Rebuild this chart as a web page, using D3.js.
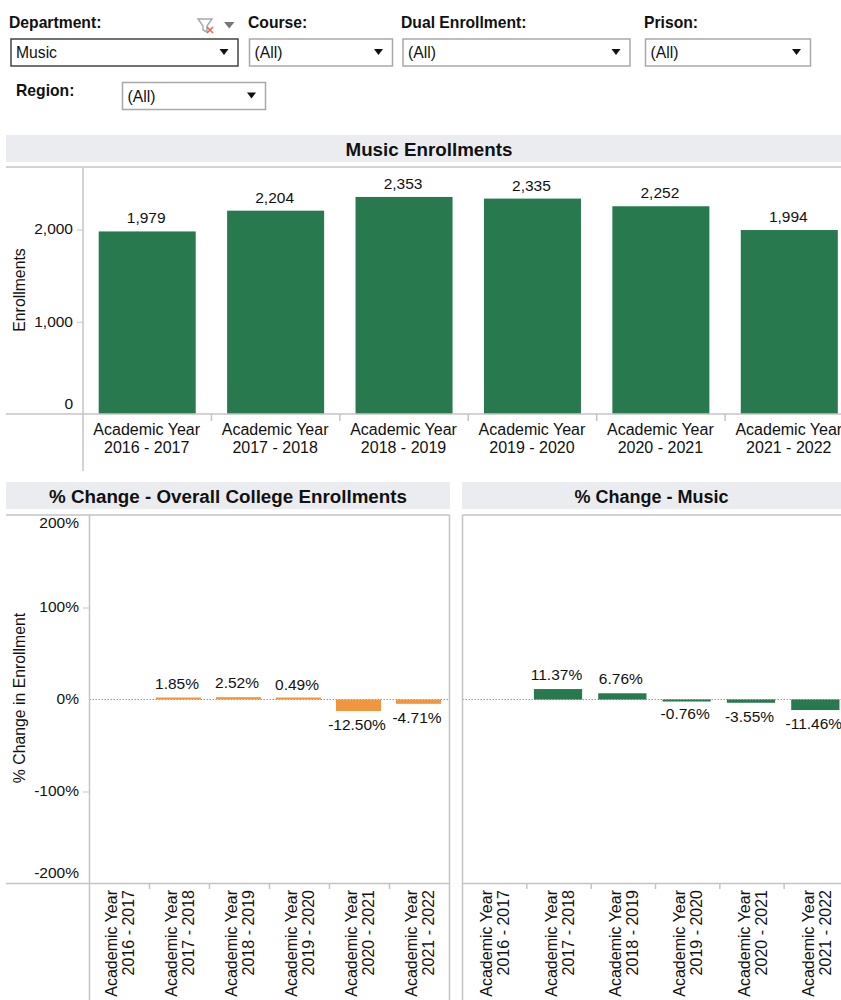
<!DOCTYPE html>
<html>

<head>
    <meta charset="utf-8">
    <title>Music Enrollments</title>
    <style>
        body {
            margin: 0;
            background: #fff;
        }

        svg {
            display: block;
        }

        text {
            font-family: "Liberation Sans", Arial, sans-serif;
            fill: #111;
        }

        .axis-line {
            stroke: #c4c4c4;
            stroke-width: 1.5;
        }

        .filter-label {
            font-size: 15.7px;
            font-weight: bold;
        }

        .panel-title {
            font-size: 18.8px;
            font-weight: bold;
            text-anchor: middle;
        }

        .tick-text {
            font-size: 15.5px;
        }

        .year-text {
            font-size: 16px;
        }
    </style>
    <script src="https://d3js.org/d3.v7.min.js"></script>
</head>

<body>
    <svg width="841" height="1000"></svg>
    <script>
        // Data
        var years = ["2016 - 2017", "2017 - 2018", "2018 - 2019", "2019 - 2020", "2020 - 2021", "2021 - 2022"];
        var enrollments = [1979, 2204, 2353, 2335, 2252, 1994];
        var collegeChange = [null, 1.85, 2.52, 0.49, -12.5, -4.71];
        var musicChange = [null, 11.37, 6.76, -0.76, -3.55, -11.46];
        var enrollmentTicks = [0, 1000, 2000];
        var changeTicks = [-200, -100, 0, 100, 200];
        var filterNames = ["Department:", "Course:", "Dual Enrollment:", "Prison:", "Region:"];
        var filterValues = ["Music", "(All)", "(All)", "(All)", "(All)"];

        var svg = d3.select("svg");
        var green = "#28794e", orange = "#f2953f";

        // Filter controls along the top
        function addFilter(i, labelX, labelY, boxX, boxY, boxW, boxH, active) {
            svg.append("text").attr("class", "filter-label")
                .attr("x", labelX).attr("y", labelY).text(filterNames[i]);
            svg.append("rect")
                .attr("x", boxX).attr("y", boxY).attr("width", boxW).attr("height", boxH)
                .attr("fill", "#fff")
                .attr("stroke", active ? "#444" : "#a9a9a9")
                .attr("stroke-width", 1.5);
            svg.append("text")
                .attr("x", boxX + 5).attr("y", boxY + 19).style("font-size", "15.7px")
                .text(filterValues[i]);
            var ax = boxX + boxW - 14, ay = boxY + 13;
            svg.append("path")
                .attr("d", "M" + (ax - 4.5) + "," + (ay - 3) + "h9l-4.5,6z")
                .attr("fill", "#111");
        }
        addFilter(0, 9, 28, 11, 39, 227, 27, true);
        addFilter(1, 248, 28, 249.5, 39, 143, 27, false);
        addFilter(2, 401, 28, 403, 39, 227, 27, false);
        addFilter(3, 644, 28, 645.5, 39, 165, 27, false);
        addFilter(4, 16, 96, 122.5, 82.5, 143, 27, false);

        // Clear-filter icon and menu arrow next to Department
        svg.append("path")
            .attr("d", "M198,19h14l-5,7v6l-4,-2v-4z")
            .attr("fill", "none").attr("stroke", "#a8a8a8").attr("stroke-width", 1.4);
        svg.append("path")
            .attr("d", "M207,27l6,6M213,27l-6,6")
            .attr("stroke", "#e0665c").attr("stroke-width", 1.6);
        svg.append("path").attr("d", "M224,22h10.5l-5.25,6.5z").attr("fill", "#777");

        function addHeader(title, x0, x1, y, textX, size) {
            svg.append("rect")
                .attr("x", x0).attr("y", y).attr("width", x1 - x0).attr("height", 27)
                .attr("fill", "#ebecf0");
            svg.append("text").attr("class", "panel-title")
                .attr("x", textX)
                .attr("y", y + 21)
                .style("font-size", size)
                .text(title);
        }

        function line(x1, y1, x2, y2) {
            return svg.append("line").attr("class", "axis-line")
                .attr("x1", x1).attr("y1", y1).attr("x2", x2).attr("y2", y2);
        }

        // Style the tick labels an axis call produced
        function styleAxis(g) {
            g.select(".domain").remove();
            g.selectAll(".tick line").attr("stroke", "#c4c4c4");
            g.selectAll(".tick text").attr("class", "tick-text").attr("fill", "#111").attr("dy", "0.28em");
        }

        // Top chart
        addHeader("Music Enrollments", 6, 841, 135, 429, "18.8px");
        line(6, 167, 841, 167);

        var xTop = d3.scaleBand().domain(years).range([83, 853.5]).paddingInner(0.2445).paddingOuter(0.12225);
        var yTop = d3.scaleLinear().domain([0, 2000]).range([414, 229.5]);

        svg.selectAll(".bar-top")
            .data(enrollments)
            .enter()
            .append("rect")
            .attr("class", "bar-top")
            .attr("x", function (d, i) { return xTop(years[i]); })
            .attr("y", function (d) { return yTop(d); })
            .attr("width", xTop.bandwidth())
            .attr("height", function (d) { return yTop(0) - yTop(d); })
            .attr("fill", green);

        svg.selectAll(".label-top")
            .data(enrollments)
            .enter()
            .append("text")
            .attr("class", "tick-text label-top")
            .attr("text-anchor", "middle")
            .attr("x", function (d, i) { return xTop(years[i]) + xTop.bandwidth() / 2 - 1; })
            .attr("y", function (d) { return yTop(d) - 8; })
            .text(d3.format(","));

        var topAxis = svg.append("g")
            .attr("transform", "translate(83,0)")
            .call(d3.axisLeft(yTop).tickValues(enrollmentTicks).tickSize(6).tickPadding(4).tickFormat(d3.format(",")))
            .call(styleAxis);
        topAxis.selectAll(".tick")
            .filter(function (d) { return d === 0; })
            .select("text").attr("dy", "-0.35em");
        topAxis.selectAll(".tick")
            .filter(function (d) { return d === 0; })
            .select("line").remove();

        line(83, 168, 83, 471);
        line(6, 414, 841, 414);

        svg.append("text")
            .attr("transform", "translate(24.5,290) rotate(-90)")
            .attr("text-anchor", "middle")
            .style("font-size", "15.8px")
            .text("Enrollments");

        // Separators between the year bands, then two-line year labels
        years.slice(1).forEach(function (y) {
            var bx = xTop(y) - xTop.step() * 0.12225;
            line(bx, 414, bx, 421);
        });
        var topLabels = svg.selectAll(".year-top")
            .data(years)
            .enter()
            .append("text")
            .attr("class", "year-text year-top")
            .attr("text-anchor", "middle");
        topLabels.append("tspan")
            .attr("x", function (d) { return xTop(d) + xTop.bandwidth() / 2 - 0.5; })
            .attr("y", 435)
            .text("Academic Year");
        topLabels.append("tspan")
            .attr("x", function (d) { return xTop(d) + xTop.bandwidth() / 2 - 0.5; })
            .attr("y", 452.5)
            .text(function (d) { return d; });

        // Lower panels share the same y scale
        var yChange = d3.scaleLinear().domain([-200, 200]).range([883.5, 515.5]);

        function addChangePanel(values, color, x0, x1, bandEnd, padding, lineStart) {
            var x = d3.scaleBand().domain(years).range([x0, bandEnd]).paddingInner(padding).paddingOuter(padding / 2);
            var shown = values.filter(function (d) { return d !== null; });

            // dotted zero line goes under the bars
            svg.append("line")
                .attr("x1", x0).attr("x2", x1)
                .attr("y1", yChange(0)).attr("y2", yChange(0))
                .attr("stroke", "#999").attr("stroke-dasharray", "1.5,1.5");

            // very small changes still get a visible sliver, as in the original
            svg.append("g").selectAll("rect")
                .data(shown)
                .enter()
                .append("rect")
                .attr("x", function (d) { return x(years[values.indexOf(d)]) - 1; })
                .attr("y", function (d) {
                    var h = Math.max(Math.abs(yChange(d) - yChange(0)), 2);
                    return d > 0 ? yChange(0) - h : yChange(0);
                })
                .attr("width", x.bandwidth())
                .attr("height", function (d) { return Math.max(Math.abs(yChange(d) - yChange(0)), 2); })
                .attr("fill", color);

            svg.append("g").selectAll("text")
                .data(shown)
                .enter()
                .append("text")
                .attr("class", "tick-text")
                .attr("text-anchor", "middle")
                .attr("x", function (d) { return x(years[values.indexOf(d)]) + x.bandwidth() / 2 - 2.5; })
                .attr("y", function (d) { return d < 0 ? yChange(d) + 19 : yChange(d) - 9; })
                .text(function (d) { return d.toFixed(2) + "%"; });

            line(lineStart, 515, x1, 515);
            line(lineStart, 883.5, x1, 883.5);
            line(x0, 515, x0, 1000);

            years.slice(1).forEach(function (y) {
                var bx = x(y) - x.step() * padding / 2;
                line(bx, 883.5, bx, 889);
            });

            var labels = svg.append("g").selectAll("text")
                .data(years)
                .enter()
                .append("text")
                .attr("class", "year-text")
                .attr("text-anchor", "end")
                .attr("transform", function (d) {
                    return "translate(" + (x(d) + x.bandwidth() / 2 + 0.5) + ",890) rotate(-90)";
                });
            labels.append("tspan").attr("x", 0).attr("y", -3).text("Academic Year");
            labels.append("tspan").attr("x", 0).attr("y", 14).text(function (d) { return d; });
        }

        addHeader("% Change - Overall College Enrollments", 6, 450, 482, 228, "18.8px");
        addHeader("% Change - Music", 462, 841, 482, 651.5, "18px");
        addChangePanel(collegeChange, orange, 89.5, 449.5, 449.5, 0.25, 6);
        addChangePanel(musicChange, green, 462.5, 841, 848.5, 0.25, 462.5);
        line(449.5, 515, 449.5, 1000);

        var changeAxis = svg.append("g")
            .attr("transform", "translate(89,0)")
            .call(d3.axisLeft(yChange).tickValues(changeTicks).tickSize(6).tickPadding(4).tickFormat(function (d) { return d + "%"; }))
            .call(styleAxis);
        // end labels sit inside the plot height; only +/-100% carry a tick mark
        changeAxis.selectAll(".tick")
            .filter(function (d) { return Math.abs(d) !== 100; })
            .select("line").remove();
        changeAxis.selectAll(".tick")
            .filter(function (d) { return Math.abs(d) === 200; })
            .select("text").attr("y", function (d) { return d > 0 ? 8 : -10; });

        svg.append("text")
            .attr("transform", "translate(25,698) rotate(-90)")
            .attr("text-anchor", "middle")
            .style("font-size", "15.8px")
            .text("% Change in Enrollment");
    </script>
</body>

</html>
